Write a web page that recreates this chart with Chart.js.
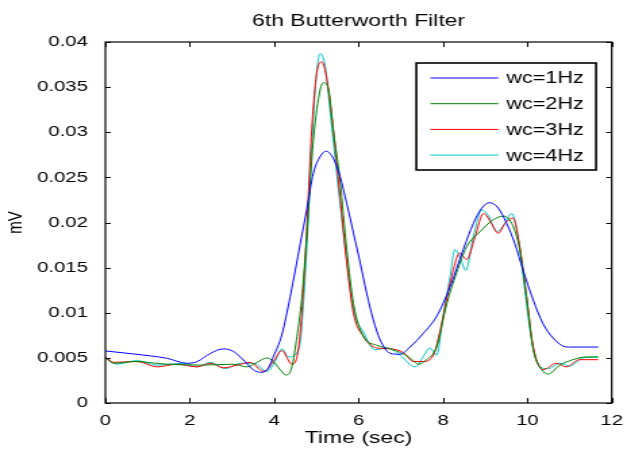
<!DOCTYPE html>
<html>
<head>
<meta charset="utf-8">
<script src="https://cdn.jsdelivr.net/npm/chart.js@4.4.1/dist/chart.umd.min.js"></script>
<style>
  html, body { margin: 0; padding: 0; background: #fff; }
</style>
</head>
<body>
<!-- the source picture is stretched sideways, so the canvas is drawn narrow and scaled up -->
<canvas id="chart" width="464" height="450" style="display:block;width:627px;height:450px"></canvas>
<script>
const seriesNames = ['wc=1Hz', 'wc=2Hz', 'wc=3Hz', 'wc=4Hz'];
const seriesColors = ['#0000ff', '#008000', '#ff0000', '#00c4c4'];

// time (sec) and value (mV)
const time1 = [0, 0.67, 1.46, 1.93, 2.17, 2.49, 2.8, 3.04, 3.27, 3.51, 3.67, 3.83, 3.98, 4.18, 4.38, 4.62, 4.77, 4.93, 5.09, 5.23, 5.4, 5.56, 5.72, 5.88, 6.04, 6.19, 6.35, 6.51, 6.75, 6.98, 7.22, 7.53, 7.85, 8.17, 8.48, 8.72, 8.92, 9.11, 9.31, 9.51, 9.7, 9.9, 10.14, 10.37, 10.61, 10.85, 11.0, 11.68];
const wc1 = [0.00577, 0.00543, 0.00495, 0.0044, 0.00458, 0.0055, 0.006, 0.0057, 0.00477, 0.00366, 0.0034, 0.00366, 0.00514, 0.00754, 0.0118, 0.0177, 0.0214, 0.0255, 0.0273, 0.0279, 0.0271, 0.0251, 0.0221, 0.0188, 0.0155, 0.0122, 0.0092, 0.007, 0.0055, 0.0054, 0.0062, 0.0077, 0.0096, 0.0129, 0.017, 0.0199, 0.0216, 0.0222, 0.0216, 0.0199, 0.0177, 0.0147, 0.0114, 0.0088, 0.0072, 0.0063, 0.0062, 0.0062];

const time2 = [0, 0.2, 0.67, 1.46, 2.25, 3.04, 3.35, 3.59, 3.83, 3.98, 4.14, 4.28, 4.42, 4.54, 4.65, 4.77, 4.93, 5.09, 5.17, 5.29, 5.4, 5.56, 5.72, 5.88, 6.11, 6.43, 6.75, 6.98, 7.22, 7.42, 7.61, 7.85, 8.09, 8.32, 8.56, 8.88, 9.19, 9.43, 9.63, 9.82, 9.98, 10.14, 10.3, 10.49, 10.77, 11.08, 11.4, 11.68];
const wc2 = [0.005, 0.0044, 0.0046, 0.0043, 0.0042, 0.0043, 0.004, 0.0045, 0.005, 0.0046, 0.0037, 0.0031, 0.004, 0.0074, 0.0114, 0.0184, 0.0292, 0.0347, 0.0355, 0.0347, 0.0303, 0.0247, 0.017, 0.011, 0.0074, 0.0064, 0.006, 0.0056, 0.005, 0.0043, 0.0048, 0.0062, 0.011, 0.0144, 0.0173, 0.019, 0.0203, 0.0207, 0.0199, 0.017, 0.0118, 0.0059, 0.004, 0.0032, 0.0042, 0.0048, 0.0051, 0.0051];

const time3 = [0, 0.2, 0.75, 1.22, 1.7, 2.17, 2.49, 2.8, 3.12, 3.43, 3.75, 3.98, 4.18, 4.42, 4.58, 4.73, 4.89, 5.01, 5.13, 5.25, 5.4, 5.56, 5.72, 5.88, 6.11, 6.43, 6.75, 7.06, 7.3, 7.53, 7.77, 7.97, 8.17, 8.4, 8.56, 8.76, 8.96, 9.15, 9.31, 9.47, 9.66, 9.82, 9.98, 10.14, 10.37, 10.69, 10.92, 11.24, 11.68];
const wc3 = [0.0051, 0.0045, 0.0046, 0.004, 0.0043, 0.004, 0.0044, 0.0039, 0.0042, 0.0045, 0.0035, 0.0046, 0.0058, 0.0043, 0.0062, 0.0155, 0.0303, 0.0366, 0.0378, 0.0358, 0.0303, 0.0229, 0.0155, 0.0099, 0.0074, 0.0061, 0.006, 0.0056, 0.0046, 0.0046, 0.0053, 0.0088, 0.0133, 0.0166, 0.0159, 0.0184, 0.021, 0.0199, 0.0188, 0.0199, 0.0205, 0.0173, 0.0118, 0.0062, 0.0037, 0.0044, 0.004, 0.0048, 0.0048];

const time4 = [0, 0.27, 0.75, 1.22, 1.85, 2.17, 2.49, 2.84, 3.19, 3.51, 3.83, 4.02, 4.18, 4.34, 4.58, 4.73, 4.89, 4.99, 5.09, 5.21, 5.33, 5.48, 5.68, 5.88, 6.11, 6.39, 6.67, 6.98, 7.34, 7.53, 7.69, 7.85, 8.0, 8.17, 8.28, 8.4, 8.54, 8.72, 8.92, 9.07, 9.27, 9.43, 9.63, 9.78, 9.94, 10.1, 10.3, 10.49, 10.77, 11.0, 11.32, 11.68];
const wc4 = [0.005, 0.0043, 0.0047, 0.0042, 0.0044, 0.004, 0.0045, 0.0038, 0.0044, 0.0044, 0.0035, 0.0046, 0.006, 0.0051, 0.0059, 0.0136, 0.0284, 0.0358, 0.0387, 0.0373, 0.0321, 0.0255, 0.0173, 0.0103, 0.0079, 0.0059, 0.0061, 0.0053, 0.004, 0.0051, 0.0061, 0.0053, 0.0096, 0.014, 0.017, 0.0162, 0.0147, 0.0184, 0.0214, 0.0208, 0.019, 0.0196, 0.021, 0.0184, 0.0125, 0.007, 0.004, 0.0038, 0.0044, 0.0041, 0.005, 0.0051];

const xTicks = [0, 2, 4, 6, 8, 10, 12];
const yTicks = [0, 0.005, 0.01, 0.015, 0.02, 0.025, 0.03, 0.035, 0.04];

const times = [time1, time2, time3, time4];
const values = [wc1, wc2, wc3, wc4];

const FONT = "'Liberation Sans', Arial, Helvetica, sans-serif";
Chart.defaults.font.family = FONT;
Chart.defaults.color = '#000';

// matlab-ish box: frame, inward ticks on all sides, legend box top right
const matlabFrame = {
    id: 'matlabFrame',
    afterDraw(chart) {
        const ctx = chart.ctx;
        const { left, right, top, bottom } = chart.chartArea;
        const xs = chart.scales.x, ys = chart.scales.y;
        ctx.save();
        ctx.strokeStyle = '#000';
        ctx.lineWidth = 1;
        ctx.beginPath();
        xTicks.forEach(v => {
            const px = Math.round(xs.getPixelForValue(v)) + 0.5;
            ctx.moveTo(px, bottom); ctx.lineTo(px, bottom - 5);
            ctx.moveTo(px, top); ctx.lineTo(px, top + 5);
        });
        yTicks.forEach(v => {
            const py = Math.round(ys.getPixelForValue(v)) + 0.5;
            ctx.moveTo(left, py); ctx.lineTo(left + 4, py);
            ctx.moveTo(right, py); ctx.lineTo(right - 4, py);
        });
        ctx.stroke();
        ctx.lineWidth = 1.2;
        ctx.strokeRect(left, top, right - left, bottom - top);

        // legend
        const bx = right - 11.6 - 133, by = top + 21, bw = 133, bh = 107;
        ctx.fillStyle = '#fff';
        ctx.fillRect(bx, by, bw, bh);
        ctx.lineWidth = 1.6;
        ctx.strokeRect(bx, by, bw, bh);
        ctx.font = '16px ' + FONT;
        ctx.textBaseline = 'middle';
        ctx.textAlign = 'left';
        chart.data.datasets.forEach((ds, i) => {
            const y = by + 15 + i * 25.7;
            ctx.strokeStyle = ds.borderColor;
            ctx.lineWidth = 1;
            ctx.beginPath();
            ctx.moveTo(bx + 10.4, y);
            ctx.lineTo(bx + 60.7, y);
            ctx.stroke();
            ctx.fillStyle = '#000';
            ctx.fillText(ds.label, bx + 66.6, y + 1);
        });
        ctx.restore();
    }
};

const ctx = document.getElementById('chart').getContext('2d');
new Chart(ctx, {
    type: 'line',
    data: {
        datasets: seriesNames.map((name, i) => ({
            label: name,
            data: times[i].map((t, j) => ({ x: t, y: values[i][j] })),
            borderColor: seriesColors[i],
            backgroundColor: seriesColors[i],
            borderWidth: 1,
            pointRadius: 0,
            cubicInterpolationMode: 'monotone',
            fill: false
        }))
    },
    options: {
        responsive: false,
        devicePixelRatio: 1,
        animation: false,
        layout: { padding: { left: 0, right: 11.3, top: 0, bottom: 0 } },
        plugins: {
            legend: { display: false },
            tooltip: { enabled: false },
            title: {
                display: true,
                text: '6th Butterworth Filter',
                fullSize: false,
                font: { size: 17, weight: 'normal' },
                padding: { top: 10.8, bottom: 10.8 }
            }
        },
        scales: {
            x: {
                type: 'linear',
                min: 0,
                max: 12,
                afterBuildTicks: s => { s.ticks = xTicks.map(v => ({ value: v })); },
                afterFit: s => { s.height = 47; },
                grid: { display: false },
                border: { display: false },
                ticks: { font: { size: 15 }, padding: 1, maxRotation: 0 },
                title: { display: true, text: 'Time (sec)', font: { size: 17 }, padding: { top: 0, bottom: 1 } }
            },
            y: {
                type: 'linear',
                min: 0,
                max: 0.04,
                afterBuildTicks: s => { s.ticks = yTicks.map(v => ({ value: v })); },
                afterFit: s => { s.width = 78; },
                grid: { display: false },
                border: { display: false },
                ticks: { font: { size: 15 }, padding: 5, callback: v => String(+v.toFixed(4)) },
                title: { display: true, text: 'mV', font: { size: 15 }, padding: { top: 3, bottom: 0 } }
            }
        }
    },
    plugins: [matlabFrame]
});
</script>
</body>
</html>
